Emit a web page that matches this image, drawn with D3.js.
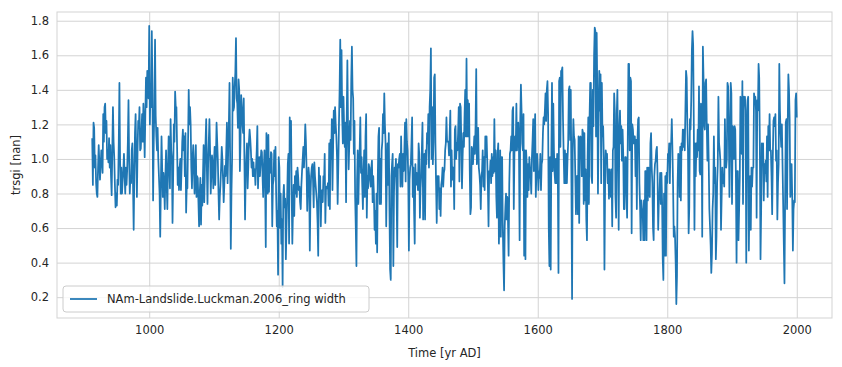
<!DOCTYPE html>
<html>
<head>
<meta charset="utf-8">
<script src="https://cdn.jsdelivr.net/npm/d3@7"></script>
<style>
  body { margin: 0; background: #fff; }
  text { font-family: "DejaVu Sans", sans-serif; fill: #262626; }
</style>
</head>
<body>
<div id="chart"></div>
<script>
// 数据：每年一个值，从 912 年开始
const startYear = 912;
const ringWidth = [
  1.12, 0.85, 1.21, 1.18, 0.95, 1.02, 0.86, 0.80,             // 912-919
  0.78, 0.95, 1.08, 0.98, 0.88, 0.96, 1.05, 1.01, 0.92, 1.26, // 920s
  1.10, 1.30, 1.32, 1.15, 1.22, 1.00, 1.05, 0.98, 1.12, 0.95,
  1.08, 0.90, 0.79, 1.05, 1.30, 1.10, 1.01, 0.85, 0.72, 0.80,
  0.73, 0.88, 0.85, 1.10, 1.44, 1.00, 0.80, 0.95, 0.80, 0.88,
  0.93, 1.03, 0.90, 0.80, 0.95, 0.85, 0.94, 1.10, 1.34, 1.00,
  0.80, 0.90, 0.86, 1.05, 1.09, 0.85, 0.59, 0.90, 1.15, 1.26,
  1.00, 0.78, 1.05, 1.22, 1.18, 1.30, 1.05, 1.06, 1.15, 1.26,
  1.10, 1.32, 1.20, 1.01, 1.25, 1.47, 1.30, 1.51, 1.40, 1.35, // 990s
  1.77, 1.20, 1.40, 1.30, 1.74, 1.40, 0.76, 1.10, 1.30, 1.69, // 1000s
  1.25, 1.13, 1.05, 1.18, 1.00, 0.90, 0.80, 0.55, 0.85, 1.13,
  0.95, 0.78, 0.92, 0.85, 0.71, 0.90, 1.05, 0.85, 0.71, 0.95,
  1.13, 0.98, 0.83, 1.23, 1.05, 1.00, 0.63, 0.90, 1.20, 1.10,
  1.39, 1.30, 1.30, 1.08, 0.85, 0.95, 0.82, 0.95, 1.00, 0.82,
  0.95, 1.10, 1.17, 1.05, 1.13, 0.90, 1.15, 0.69, 0.85, 0.83,
  1.10, 1.40, 1.20, 1.30, 1.20, 0.95, 0.83, 1.00, 1.08, 0.95,
  0.80, 0.95, 1.08, 0.78, 0.90, 0.89, 0.75, 0.61, 0.80, 0.89,
  0.62, 0.85, 0.73, 0.90, 1.08, 0.75, 0.95, 1.10, 1.23, 0.95,
  0.74, 0.97, 1.10, 1.23, 1.05, 0.80, 0.92, 1.02, 0.95, 0.83, // 1090s
  0.98, 1.07, 0.85, 1.00, 1.21, 1.10, 0.99, 0.80, 0.65, 0.78, // 1100s
  0.85, 0.95, 1.07, 1.00, 0.88, 0.75, 0.85, 0.96, 0.90, 1.05,
  1.21, 0.86, 1.05, 1.20, 1.44, 1.00, 0.48, 0.80, 1.00, 1.47,
  1.28, 1.30, 1.42, 1.50, 1.70, 1.35, 1.32, 1.18, 1.46, 1.40,
  0.93, 1.10, 1.37, 1.30, 1.20, 1.15, 1.35, 1.00, 0.65, 0.90,
  1.00, 1.09, 0.83, 0.95, 1.10, 1.17, 1.12, 1.05, 0.95, 1.00,
  0.90, 0.98, 0.90, 0.94, 0.85, 0.95, 1.05, 1.19, 0.83, 0.95,
  1.01, 0.90, 0.98, 1.05, 1.04, 0.90, 0.78, 0.95, 1.05, 0.85,
  0.49, 1.15, 1.05, 0.80, 1.14, 0.81, 1.00, 0.92, 1.04, 1.03,
  0.61, 0.85, 0.88, 1.05, 0.90, 1.07, 0.80, 0.61, 0.70, 0.33, // 1190s
  1.01, 0.95, 0.60, 0.80, 0.51, 0.65, 0.26, 0.78, 0.85, 0.72, // 1200s
  0.77, 0.42, 0.60, 0.77, 0.97, 1.03, 0.51, 1.24, 1.05, 1.22,
  0.80, 0.51, 0.70, 0.85, 0.67, 0.90, 0.80, 0.93, 0.78, 0.95,
  0.90, 0.82, 0.84, 0.75, 0.71, 0.85, 0.93, 1.00, 1.07, 0.95,
  1.05, 1.20, 1.10, 0.94, 0.70, 0.85, 0.95, 0.90, 0.47, 0.78,
  0.90, 0.95, 0.97, 0.87, 0.72, 0.98, 0.90, 0.85, 0.80, 0.75,
  0.63, 0.44, 0.95, 0.78, 0.90, 0.61, 0.80, 0.82, 0.75, 0.90,
  0.86, 1.03, 0.63, 0.83, 0.84, 0.83, 0.86, 0.73, 1.09, 0.71,
  1.11, 1.00, 1.23, 0.82, 1.07, 1.28, 1.15, 1.30, 1.20, 1.13,
  1.01, 0.74, 0.95, 1.20, 1.40, 1.69, 1.30, 1.63, 1.25, 1.09, // 1290s
  1.36, 1.18, 1.07, 1.21, 0.75, 1.23, 1.57, 1.20, 0.94, 1.09, // 1300s
  1.22, 1.11, 1.46, 1.65, 1.40, 1.35, 1.03, 1.22, 0.78, 0.60,
  0.38, 0.88, 1.05, 0.74, 0.94, 1.05, 1.24, 0.92, 1.01, 0.84,
  0.71, 0.92, 1.05, 0.78, 1.13, 1.26, 0.66, 0.90, 0.83, 0.97,
  0.95, 0.88, 0.84, 0.95, 0.99, 0.75, 0.90, 0.80, 0.59, 0.70,
  0.51, 0.80, 0.46, 0.90, 1.13, 1.18, 0.74, 1.00, 0.74, 1.05,
  1.10, 1.26, 1.15, 1.38, 1.20, 1.09, 0.61, 0.90, 1.09, 0.85,
  1.15, 0.70, 0.36, 0.30, 0.90, 0.97, 1.03, 0.38, 0.80, 0.95,
  0.90, 1.00, 0.80, 0.49, 0.97, 0.95, 1.00, 1.03, 0.84, 1.13,
  0.93, 0.84, 1.03, 0.93, 1.05, 1.21, 0.87, 1.23, 1.10, 1.05, // 1390s
  0.90, 0.47, 0.88, 0.95, 0.97, 1.10, 1.24, 0.78, 0.95, 0.70, // 1400s
  0.51, 0.97, 0.85, 0.92, 0.91, 0.82, 1.09, 1.03, 0.66, 0.83,
  0.90, 1.05, 1.21, 0.65, 0.95, 1.03, 0.65, 1.05, 0.97, 1.15,
  1.09, 1.26, 0.95, 1.30, 1.40, 1.64, 1.00, 1.30, 0.97, 1.10,
  1.47, 1.49, 1.09, 0.85, 0.63, 0.90, 0.85, 0.90, 0.71, 0.83,
  0.67, 0.85, 0.88, 0.95, 0.84, 0.92, 0.94, 1.05, 1.09, 1.24,
  1.10, 1.10, 1.10, 1.02, 1.15, 1.28, 0.84, 1.05, 0.88, 0.95,
  0.95, 0.71, 1.17, 1.19, 1.00, 1.09, 1.05, 1.15, 1.30, 0.87,
  1.32, 1.30, 1.09, 0.83, 1.01, 1.15, 1.07, 1.26, 1.40, 1.13,
  1.58, 1.13, 1.34, 1.13, 1.32, 0.93, 0.68, 0.72, 1.07, 1.05, // 1490s
  0.97, 1.05, 1.13, 1.03, 1.20, 1.52, 0.97, 1.05, 1.18, 0.95, // 1500s
  0.91, 0.85, 0.71, 0.90, 0.93, 1.05, 0.84, 1.01, 0.82, 1.13,
  1.01, 1.13, 0.99, 0.84, 0.61, 0.93, 0.91, 0.99, 0.86, 1.03,
  0.90, 1.01, 0.92, 1.23, 0.93, 1.05, 0.78, 0.66, 1.03, 1.09,
  0.51, 0.66, 1.05, 0.55, 1.01, 1.01, 0.61, 0.40, 0.24, 0.61,
  0.72, 0.80, 0.65, 0.78, 0.65, 0.44, 0.85, 1.03, 1.05, 1.13,
  1.05, 1.28, 1.30, 0.71, 1.03, 1.13, 1.05, 1.32, 1.05, 1.19,
  1.21, 1.05, 0.53, 1.23, 1.43, 1.28, 1.09, 1.05, 1.26, 0.44,
  1.05, 0.42, 1.05, 0.97, 0.78, 0.97, 0.82, 1.01, 0.95, 0.90,
  0.80, 1.01, 1.11, 1.23, 0.93, 1.13, 1.26, 0.78, 0.93, 1.03, // 1590s
  0.95, 0.82, 0.93, 0.89, 1.03, 0.82, 0.97, 0.99, 1.15, 1.24, // 1600s
  1.20, 1.28, 1.38, 1.22, 1.40, 1.45, 1.26, 0.60, 0.38, 1.01,
  0.36, 1.03, 1.44, 0.93, 1.32, 1.05, 0.92, 0.86, 1.00, 0.86,
  1.03, 0.90, 0.34, 1.45, 1.47, 1.07, 1.51, 1.51, 1.53, 1.23,
  1.03, 0.86, 1.05, 0.86, 1.03, 0.86, 1.00, 1.10, 1.40, 1.42,
  1.11, 1.40, 0.86, 0.19, 1.03, 1.23, 1.13, 1.11, 0.90, 0.68,
  0.90, 0.90, 0.68, 1.13, 0.63, 1.11, 1.13, 1.11, 0.90, 1.17,
  1.15, 0.74, 1.15, 0.76, 0.94, 0.65, 0.53, 1.01, 1.24, 0.74,
  1.24, 1.44, 1.44, 0.90, 0.86, 1.40, 1.19, 1.60, 1.76, 1.74,
  1.13, 1.73, 1.38, 0.80, 1.21, 1.51, 1.28, 1.49, 0.86, 1.44, // 1690s
  1.13, 1.19, 1.01, 0.36, 0.84, 1.05, 1.01, 1.03, 0.86, 0.94, // 1700s
  0.77, 0.94, 0.86, 0.78, 0.94, 0.61, 1.05, 1.07, 1.38, 1.28,
  0.78, 0.66, 1.26, 1.40, 1.01, 0.59, 1.17, 1.28, 1.09, 1.19,
  0.99, 1.17, 1.03, 0.71, 0.71, 1.01, 1.01, 0.80, 0.66, 1.10,
  1.55, 1.55, 1.05, 1.47, 1.45, 0.57, 1.20, 1.17, 1.09, 1.13,
  1.13, 0.90, 1.11, 0.71, 1.11, 1.23, 1.24, 0.86, 0.72, 0.53,
  0.76, 0.71, 0.71, 0.53, 0.76, 0.53, 0.93, 0.93, 0.53, 0.95,
  0.76, 0.95, 0.86, 0.78, 1.09, 1.15, 0.95, 0.86, 0.60, 0.53,
  0.90, 0.97, 0.99, 1.05, 1.07, 0.90, 0.59, 0.76, 0.80, 0.92,
  0.74, 0.92, 0.76, 0.42, 0.30, 0.80, 0.44, 0.90, 0.44, 0.92, // 1790s
  0.86, 1.03, 1.01, 1.09, 0.86, 1.09, 1.09, 1.23, 1.05, 0.84, // 1800s
  0.55, 0.61, 0.55, 0.40, 0.16, 0.32, 0.86, 1.03, 1.01, 0.78,
  1.07, 0.76, 1.09, 1.05, 1.17, 1.07, 1.17, 1.05, 1.28, 1.51,
  1.47, 1.20, 1.05, 0.57, 0.72, 1.23, 1.17, 1.34, 1.63, 1.74,
  1.66, 1.20, 0.59, 1.09, 0.90, 1.09, 1.01, 1.17, 1.05, 1.42,
  0.93, 0.91, 1.32, 1.22, 0.55, 1.65, 1.47, 1.20, 1.17, 1.44,
  1.46, 1.20, 0.99, 1.20, 0.99, 0.71, 0.61, 0.50, 0.34, 0.45,
  0.71, 0.80, 1.13, 0.86, 0.95, 0.42, 0.55, 0.86, 0.97, 1.36,
  1.09, 1.05, 0.99, 0.59, 0.78, 0.95, 0.86, 0.90, 0.84, 1.23,
  1.00, 0.95, 1.00, 1.44, 1.42, 1.19, 0.78, 1.05, 1.44, 1.38, // 1890s
  0.74, 1.19, 1.17, 1.00, 1.19, 1.17, 0.90, 0.40, 0.93, 0.93, // 1900s
  0.53, 0.71, 0.90, 1.36, 1.28, 1.03, 1.45, 0.74, 1.36, 1.34,
  1.36, 1.28, 0.40, 1.01, 1.34, 1.36, 0.47, 0.80, 0.90, 0.59,
  0.95, 0.84, 0.95, 0.95, 1.38, 1.34, 1.36, 1.28, 0.66, 1.34,
  1.28, 1.55, 1.47, 1.07, 0.42, 0.70, 1.09, 1.05, 1.09, 0.76,
  0.97, 0.92, 0.99, 0.87, 1.13, 0.78, 1.19, 1.05, 1.26, 1.05,
  1.05, 0.90, 0.68, 1.01, 1.22, 1.24, 1.19, 1.26, 0.99, 1.05,
  0.65, 0.86, 0.97, 1.55, 1.28, 1.15, 1.07, 1.20, 0.97, 0.74,
  0.50, 0.28, 0.76, 1.21, 1.23, 0.71, 1.19, 1.49, 1.40, 1.23,
  0.78, 0.86, 0.97, 0.78, 0.47, 0.71, 0.76, 0.75, 1.34, 1.38, // 1990s
  1.24                                                          // 2000
];
const years = ringWidth.map((v, i) => startYear + i);

const xTicks = [1000, 1200, 1400, 1600, 1800, 2000];
const yTicks = [0.2, 0.4, 0.6, 0.8, 1.0, 1.2, 1.4, 1.6, 1.8];
const seriesLabel = "NAm-Landslide.Luckman.2006_ring width";
const xLabel = "Time [yr AD]";
const yLabel = "trsgi [nan]";

// 画布
const width = 842, height = 367;
const margin = {left: 57, right: 10, top: 12, bottom: 49};
const plotW = width - margin.left - margin.right;
const plotH = height - margin.top - margin.bottom;

const svg = d3.select("#chart").append("svg")
    .attr("width", width)
    .attr("height", height);

// 和 matplotlib 一样留 5% 的边距
const xExt = d3.extent(years), yExt = d3.extent(ringWidth);
const xPad = (xExt[1] - xExt[0]) * 0.05, yPad = (yExt[1] - yExt[0]) * 0.05;
const x = d3.scaleLinear().domain([xExt[0] - xPad, xExt[1] + xPad]).range([0, plotW]);
const y = d3.scaleLinear().domain([yExt[0] - yPad, yExt[1] + yPad]).range([plotH, 0]);

const g = svg.append("g").attr("transform", `translate(${margin.left},${margin.top})`);

// 网格 + 刻度
const gridColor = "#d3d3d3";
const xAxis = g.append("g")
    .attr("transform", `translate(0,${plotH})`)
    .call(d3.axisBottom(x).tickValues(xTicks).tickSize(-plotH).tickPadding(8).tickFormat(d3.format("d")));
const yAxis = g.append("g")
    .call(d3.axisLeft(y).tickValues(yTicks).tickSize(-plotW).tickPadding(8).tickFormat(d3.format(".1f")));
[xAxis, yAxis].forEach(a => {
    a.select(".domain").remove();
    a.selectAll(".tick line").attr("stroke", gridColor).attr("stroke-width", 1);
    a.selectAll(".tick text")
        .attr("font-family", "DejaVu Sans, sans-serif")
        .attr("font-size", 11.5)
        .attr("fill", "#262626");
});

// 外框
g.append("rect")
    .attr("x", 0).attr("y", 0)
    .attr("width", plotW).attr("height", plotH)
    .attr("fill", "none")
    .attr("stroke", gridColor)
    .attr("stroke-width", 1);

// 折线
const line = d3.line()
    .x((d, i) => x(years[i]))
    .y(d => y(d));
g.append("path")
    .datum(ringWidth)
    .attr("d", line)
    .attr("fill", "none")
    .attr("stroke", "#1f77b4")
    .attr("stroke-width", 1.75)
    .attr("stroke-linejoin", "round");

// 坐标轴标题
svg.append("text")
    .attr("x", margin.left + plotW / 2)
    .attr("y", 357)
    .attr("text-anchor", "middle")
    .attr("font-size", 11.5)
    .text(xLabel);
svg.append("text")
    .attr("transform", `translate(20,${margin.top + plotH / 2}) rotate(-90)`)
    .attr("text-anchor", "middle")
    .attr("font-size", 11.5)
    .text(yLabel);

// 图例
const leg = g.append("g").attr("transform", `translate(6,${plotH - 32})`);
leg.append("rect")
    .attr("width", 306).attr("height", 26)
    .attr("rx", 3)
    .attr("fill", "#fff").attr("fill-opacity", 0.8)
    .attr("stroke", "#cccccc");
leg.append("line")
    .attr("x1", 7).attr("x2", 34)
    .attr("y1", 13).attr("y2", 13)
    .attr("stroke", "#1f77b4").attr("stroke-width", 1.75);
leg.append("text")
    .attr("x", 44).attr("y", 17)
    .attr("font-size", 11.5)
    .text(seriesLabel);
</script>
</body>
</html>
